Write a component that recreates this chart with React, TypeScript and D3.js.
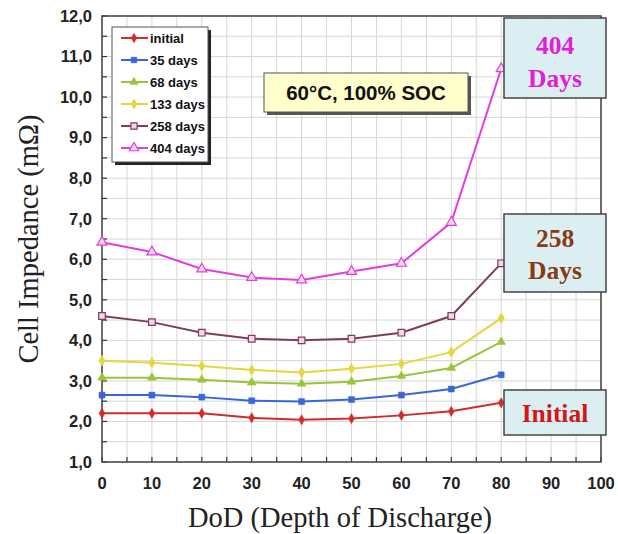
import React from "react";
import * as d3 from "d3";

const dod = [0, 10, 20, 30, 40, 50, 60, 70, 80];

const initial = [2.2, 2.2, 2.2, 2.09, 2.04, 2.07, 2.15, 2.25, 2.46];
const days35 = [2.65, 2.65, 2.6, 2.51, 2.49, 2.54, 2.65, 2.8, 3.15];
const days68 = [3.08, 3.08, 3.03, 2.96, 2.93, 2.98, 3.12, 3.32, 3.96];
const days133 = [3.5, 3.45, 3.37, 3.27, 3.21, 3.3, 3.42, 3.71, 4.55];
const days258 = [4.6, 4.45, 4.19, 4.04, 4.0, 4.04, 4.19, 4.6, 5.9];
const days404 = [6.42, 6.18, 5.76, 5.55, 5.49, 5.7, 5.9, 6.91, 10.7];

const seriesNames = ["initial", "35 days", "68 days", "133 days", "258 days", "404 days"];

const xTicks = [0, 10, 20, 30, 40, 50, 60, 70, 80, 90, 100];
const yTicks = [1, 2, 3, 4, 5, 6, 7, 8, 9, 10, 11, 12];

const series = [
  { name: seriesNames[0], values: initial, color: "#d42a2a", symbol: d3.symbolDiamond, size: 30, open: false },
  { name: seriesNames[1], values: days35, color: "#3a66d8", symbol: d3.symbolSquare, size: 36, open: false },
  { name: seriesNames[2], values: days68, color: "#9cc43a", symbol: d3.symbolTriangle, size: 34, open: false },
  { name: seriesNames[3], values: days133, color: "#e6d63c", symbol: d3.symbolDiamond, size: 34, open: false },
  { name: seriesNames[4], values: days258, color: "#7e3d5a", symbol: d3.symbolSquare, size: 44, open: true },
  { name: seriesNames[5], values: days404, color: "#e03ee0", symbol: d3.symbolTriangle, size: 44, open: true },
];

const W = 618;
const H = 534;
const margin = { left: 102, right: 17, top: 16, bottom: 72 };

export default function App() {
  const x = d3.scaleLinear().domain([0, 100]).range([margin.left, W - margin.right]);
  const y = d3.scaleLinear().domain([1, 12]).range([H - margin.bottom, margin.top]);

  const line = d3
    .line<number>()
    .x((_, i) => x(dod[i]))
    .y((v) => y(v));

  const xMinor = d3.range(0, 100.1, 5);
  const yMinor = d3.range(1, 12.01, 0.5);
  const fmt = (v: number) => v.toFixed(1).replace(".", ",");

  const bold = { fontFamily: "Arial, 'Liberation Sans', sans-serif", fontWeight: 700 };
  const serif = { fontFamily: "'Times New Roman', 'Liberation Serif', serif" };

  const legendRows = series.map((s, i) => ({ ...s, ly: 38 + i * 22 }));

  return (
    <div style={{ position: "absolute", left: 0, top: 0 }}>
      <svg width={W} height={H} style={{ display: "block", background: "#fff" }}>
        {/* grid */}
        <g stroke="#d6d6d6" strokeWidth={1}>
          {xMinor.map((t) => (
            <line key={"gx" + t} x1={x(t)} x2={x(t)} y1={y(1)} y2={y(12)} />
          ))}
          {yMinor.map((t) => (
            <line key={"gy" + t} x1={x(0)} x2={x(100)} y1={y(t)} y2={y(t)} />
          ))}
        </g>

        {/* inner ticks */}
        <g stroke="#333" strokeWidth={1.2}>
          {xMinor.map((t) => (
            <line key={"tx" + t} x1={x(t)} x2={x(t)} y1={y(1)} y2={y(1) - 5} />
          ))}
          {yMinor.map((t) => (
            <line key={"ty" + t} x1={x(0)} x2={x(0) + 5} y1={y(t)} y2={y(t)} />
          ))}
        </g>

        {/* frame */}
        <rect
          x={x(0)}
          y={y(12)}
          width={x(100) - x(0)}
          height={y(1) - y(12)}
          fill="none"
          stroke="#444"
          strokeWidth={1.5}
        />

        {/* tick labels */}
        {yTicks.map((t) => (
          <text key={"yl" + t} x={x(0) - 10} y={y(t)} dy="0.35em" textAnchor="end" fontSize={16.5} fill="#222" style={bold}>
            {fmt(t)}
          </text>
        ))}
        {xTicks.map((t) => (
          <text key={"xl" + t} x={x(t)} y={y(1) + 21} dy="0.35em" textAnchor="middle" fontSize={16.5} fill="#222" style={bold}>
            {t}
          </text>
        ))}

        {/* axis titles */}
        <text x={340} y={527} textAnchor="middle" fontSize={28.5} fill="#222" style={serif}>
          DoD (Depth of Discharge)
        </text>
        <text
          transform={`translate(38, ${(y(1) + y(12)) / 2}) rotate(-90)`}
          textAnchor="middle"
          fontSize={28.5}
          fill="#222"
          style={serif}
        >
          Cell Impedance (mΩ)
        </text>

        {/* series */}
        {series.map((s) => (
          <g key={s.name}>
            <path d={line(s.values) || ""} fill="none" stroke={s.color} strokeWidth={2} />
            {s.values.map((v, i) => (
              <path
                key={i}
                transform={`translate(${x(dod[i])},${y(v)})`}
                d={d3.symbol().type(s.symbol).size(s.size)() || ""}
                fill={s.open ? "#f3d6ea" : s.color}
                stroke={s.color}
                strokeWidth={s.open ? 1.2 : 0.5}
              />
            ))}
          </g>
        ))}

        {/* legend */}
        <rect x={115} y={30} width={96} height={135} fill="#222" />
        <rect x={112} y={27} width={96} height={135} fill="#fff" stroke="#555" strokeWidth={1} />
        {legendRows.map((s) => (
          <g key={"lg" + s.name}>
            <line x1={121} x2={148} y1={s.ly} y2={s.ly} stroke={s.color} strokeWidth={2} />
            <path
              transform={`translate(134,${s.ly})`}
              d={d3.symbol().type(s.symbol).size(s.size * 0.9)() || ""}
              fill={s.open ? "#f3d6ea" : s.color}
              stroke={s.color}
              strokeWidth={s.open ? 1.2 : 0.5}
            />
            <text x={150} y={s.ly} dy="0.35em" fontSize={13} fill="#111" style={bold}>
              {s.name}
            </text>
          </g>
        ))}

        {/* condition box */}
        <rect x={267} y={76} width={204} height={39} fill="#555" />
        <rect x={264} y={73} width={204} height={39} fill="#ffffcc" stroke="#555" strokeWidth={1} />
        <text x={366} y={93} dy="0.35em" textAnchor="middle" fontSize={20.5} fill="#111" style={bold}>
          60°C, 100% SOC
        </text>

        {/* callouts */}
        <rect x={504} y={18} width={102} height={80} fill="#dbeef2" stroke="#444" strokeWidth={1.5} />
        <text x={555} y={45} dy="0.35em" textAnchor="middle" fontSize={25.5} fontWeight={700} fill="#e020d8" style={serif}>
          404
        </text>
        <text x={555} y={78} dy="0.35em" textAnchor="middle" fontSize={25.5} fontWeight={700} fill="#e020d8" style={serif}>
          Days
        </text>

        <rect x={504} y={214} width={102} height={78} fill="#dbeef2" stroke="#444" strokeWidth={1.5} />
        <text x={555} y={238} dy="0.35em" textAnchor="middle" fontSize={25.5} fontWeight={700} fill="#8a3a12" style={serif}>
          258
        </text>
        <text x={555} y={270} dy="0.35em" textAnchor="middle" fontSize={25.5} fontWeight={700} fill="#8a3a12" style={serif}>
          Days
        </text>

        <rect x={504} y={390} width={102} height={45} fill="#dbeef2" stroke="#444" strokeWidth={1.5} />
        <text x={555} y={413} dy="0.35em" textAnchor="middle" fontSize={25.5} fontWeight={700} fill="#d01818" style={serif}>
          Initial
        </text>
      </svg>
    </div>
  );
}
